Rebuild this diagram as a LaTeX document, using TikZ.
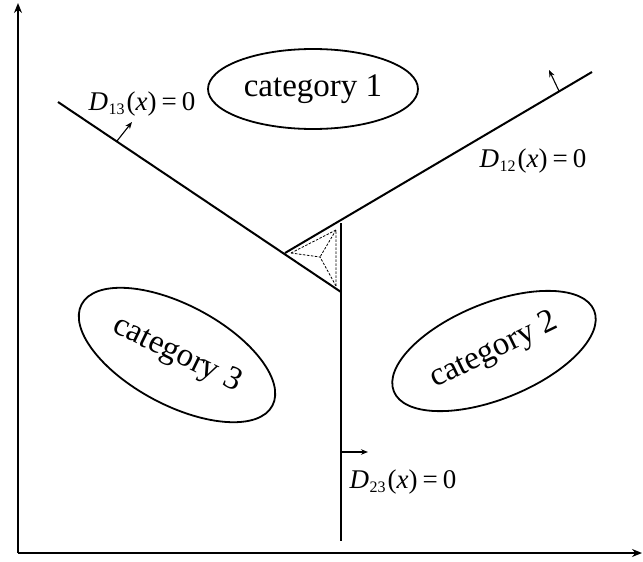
\documentclass[tikz,border=0pt]{standalone}
\usetikzlibrary{arrows.meta,shapes.geometric}
\usepackage{fontspec}
\setmainfont{Liberation Serif}
\newcommand{\dlab}[1]{\textit{D}\kern0.5pt\raisebox{-0.35ex}{\fontsize{16}{16}\selectfont #1}\kern2pt(\textit{x})\kern5pt=\kern5pt0}
\begin{document}
\begin{tikzpicture}[x=1pt,y=-1pt,
  bnd/.style={line width=2pt},
  ax/.style={line width=1.5pt,-{Stealth[length=10pt,width=8pt]}},
  nrm/.style={line width=1.1pt,-{Stealth[length=7pt,width=5.5pt]}},
  dsh/.style={line width=0.8pt,dash pattern=on 2.5pt off 1.5pt},
  cat/.style={draw,ellipse,line width=1.8pt,inner sep=0pt},
  lbl/.style={font=\fontsize{27}{30}\selectfont},
  ctxt/.style={font=\fontsize{33}{36}\selectfont}]
\useasboundingbox (0,0) rectangle (643,562);
% axes
\coordinate (o) at (18,553);
\coordinate (ytop) at (18,3);
\coordinate (xend) at (642,553);
\draw[ax] (o) -- (ytop);
\draw[ax] (o) -- (xend);
% triangle vertices
\coordinate (L) at (285,253);
\coordinate (T) at (341,223);
\coordinate (B) at (341,292);
\coordinate (C) at (320,257);
\coordinate (e13) at (58,102);
\coordinate (e12) at (592,72);
\coordinate (e23) at (341,541);
\draw[bnd] (e13) -- (B);
\draw[bnd] (L) -- (e12);
\draw[bnd] (T) -- (e23);
% dashed inner triangle
\coordinate (Li) at (291,253);
\coordinate (Ti) at (336,230);
\coordinate (Bi) at (336,286);
\draw[dsh] (Li) -- (Ti) -- (Bi);
\draw[dsh] (Li) -- (C) (Ti) -- (C) (Bi) -- (C);
% normals
\coordinate (n13a) at (117,141); \coordinate (n13b) at (132,122);
\coordinate (n12a) at (559,91); \coordinate (n12b) at (549,70);
\coordinate (n23a) at (342,452); \coordinate (n23b) at (368,452);
\draw[nrm] (n13a) -- (n13b);
\draw[nrm] (n12a) -- (n12b);
\draw[nrm] (n23a) -- (n23b);
% labels
\node[lbl] (l13) at (142,104) {\dlab{13}};
\node[lbl] (l12) at (533,161) {\dlab{12}};
\node[lbl] (l23) at (403,482) {\dlab{23}};
% categories
\node[cat,minimum width=210pt,minimum height=80pt] (c1) at (313,89) {};
\node[ctxt] at (c1) {category 1};
\node[cat,minimum width=216pt,minimum height=100pt,rotate=-28] (c3) at (177,355) {};
\node[ctxt,rotate=-26] at (c3) {category 3};
\node[cat,minimum width=216pt,minimum height=96pt,rotate=22] (c2) at (494,351) {};
\node[ctxt,rotate=26] at (c2) {category 2};
\end{tikzpicture}
\end{document}
